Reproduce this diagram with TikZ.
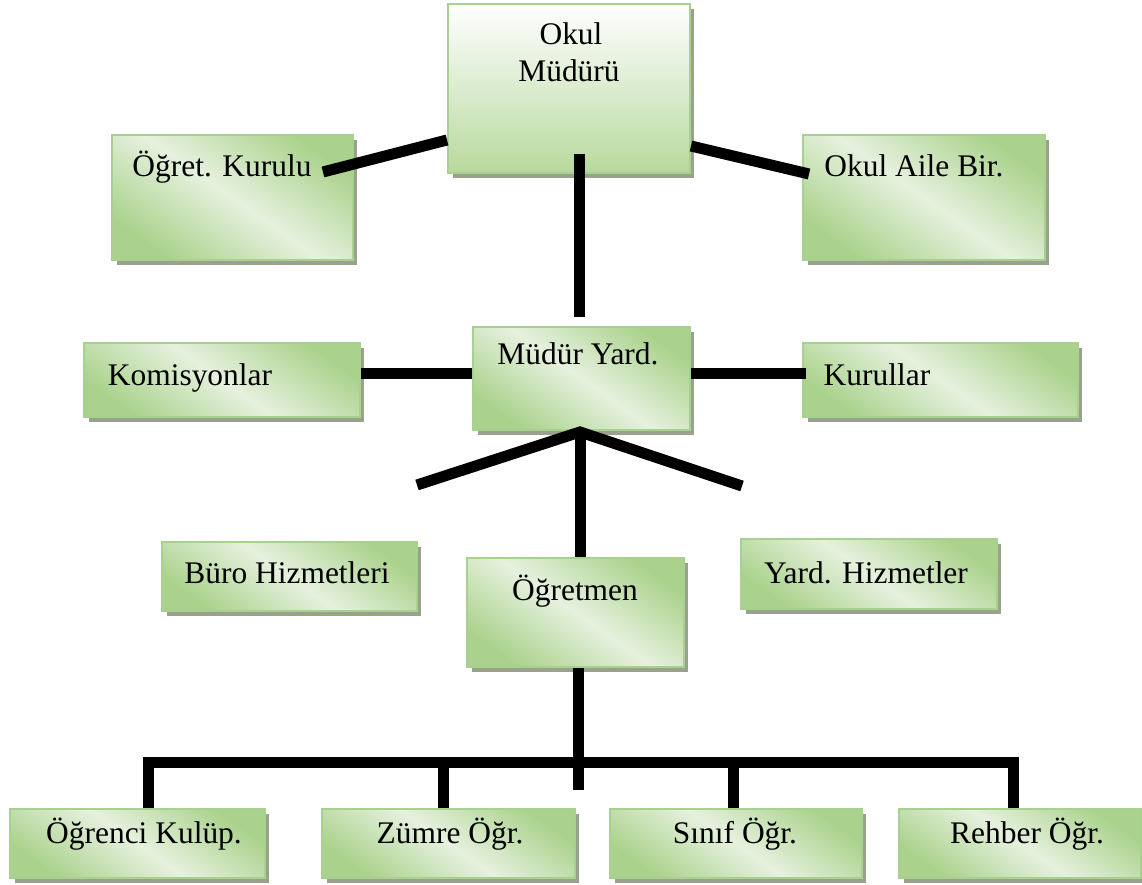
\documentclass[tikz,border=0pt]{standalone}
\usepackage{fontspec}
\setmainfont{Liberation Serif}
\usepackage{tikz}
\usetikzlibrary{calc,shadows}
\definecolor{boxgreen}{RGB}{170,210,140}
\definecolor{boxlight}{RGB}{230,241,222}
\definecolor{boxline}{RGB}{168,208,142}
\definecolor{boxshadow}{RGB}{152,162,140}

\begin{document}
\begin{tikzpicture}[x=0.02cm,y=-0.02cm]
\tikzstyle{every node}+=[inner sep=0pt]
\tikzstyle{orgbox}=[draw=boxline, line width=0.04cm, top color=boxgreen, bottom color=boxgreen, middle color=boxlight, shading angle=-35, drop shadow={shadow xshift=0.09cm, shadow yshift=-0.1cm, fill=boxshadow, opacity=1}]
\tikzstyle{boxtext}=[anchor=base, font=\fontsize{17.9pt}{21pt}\selectfont, align=center]
\tikzstyle{link}=[line width=0.22cm, black]
\useasboundingbox (0,0) rectangle (1142,885);
\node [orgbox, top color=white, bottom color=boxgreen!85!white, shading angle=0, minimum width=4.84cm, minimum height=3.38cm] (mudur) at (569,88.5) {};
\node [orgbox, minimum width=4.82cm, minimum height=2.50cm] (kurulu) at (232.5,197.5) {};
\node [orgbox, minimum width=4.84cm, minimum height=2.50cm] (aile) at (924,197.5) {};
\node [orgbox, minimum width=5.52cm, minimum height=1.48cm] (komis) at (222,380) {};
\node [orgbox, minimum width=4.34cm, minimum height=2.06cm] (yard) at (581.5,378.5) {};
\node [orgbox, minimum width=5.50cm, minimum height=1.48cm] (kurullar) at (940.5,380) {};
\node [orgbox, minimum width=5.10cm, minimum height=1.38cm] (buro) at (289.5,576.5) {};
\node [orgbox, minimum width=4.34cm, minimum height=2.18cm] (ogrt) at (575.5,612.5) {};
\node [orgbox, minimum width=5.12cm, minimum height=1.40cm] (yhiz) at (869,574) {};
\node [orgbox, minimum width=5.10cm, minimum height=1.38cm] (kulup) at (137.5,843.5) {};
\node [orgbox, minimum width=5.06cm, minimum height=1.38cm] (zumre) at (448.5,843.5) {};
\node [orgbox, minimum width=5.04cm, minimum height=1.38cm] (sinif) at (736,843.5) {};
\node [orgbox, minimum width=4.84cm, minimum height=1.38cm] (rehber) at (1020,843.5) {};
\node [boxtext] (mudur-t1) at (571,45) {Okul};
\node [boxtext] (mudur-t2) at (569,82) {Müdürü};
\node [boxtext] (kurulu-t) at (222,177) {Öğret. Kurulu};
\node [boxtext] (aile-t) at (914,177) {Okul Aile Bir.};
\node [boxtext] (komis-t) at (190,385) {Komisyonlar};
\node [boxtext] (yard-t) at (578,364) {Müdür Yard.};
\node [boxtext] (kurullar-t) at (877,385) {Kurullar};
\node [boxtext] (buro-t) at (287,583) {Büro Hizmetleri};
\node [boxtext] (ogrt-t) at (575,600) {Öğretmen};
\node [boxtext] (yhiz-t) at (866,583) {Yard. Hizmetler};
\node [boxtext] (kulup-t) at (144,843) {Öğrenci Kulüp.};
\node [boxtext] (zumre-t) at (450,843) {Zümre Öğr.};
\node [boxtext] (sinif-t) at (735,843) {Sınıf Öğr.};
\node [boxtext] (rehber-t) at (1027,843) {Rehber Öğr.};
\coordinate (fan) at (580,432);
\coordinate (fanl) at (417,485);
\coordinate (fanr) at (742,486);
\coordinate (stub) at (578,790);
\coordinate (barl) at (148,762);
\coordinate (barr) at (1013,762);
\draw [link] ($(kurulu.east)+(-31,-25.5)$) -- ($(mudur.west)+(0,51.5)$);
\draw [link] ($(mudur.east)+(0,57.5)$) -- ($(aile.west)+(7,-23.5)$);
\draw [link] ($(mudur.south)+(10.5,-20)$) -- ($(yard.north)+(-2,-9)$);
\draw [link] ($(komis.east)+(0,-7)$) -- ($(yard.west)+(0,-5.5)$);
\draw [link] ($(yard.east)+(0,-5.5)$) -- ($(kurullar.west)+(4,-7)$);
\draw [link] (fanl) -- (fan) -- (fanr);
\draw [link] (fan) -- (fan |- ogrt.north);
\draw [link] (stub |- ogrt.south) -- (stub);
\draw [link] (barl |- kulup.north) -- (barl) -- (barr) -- (barr |- rehber.north);
\draw [link] ($(zumre.north)+(-5.5,0)$) -- ($(zumre.north)+(-5.5,-47)$);
\draw [link] ($(sinif.north)+(-3,0)$) -- ($(sinif.north)+(-3,-47)$);
\end{tikzpicture}
\end{document}
